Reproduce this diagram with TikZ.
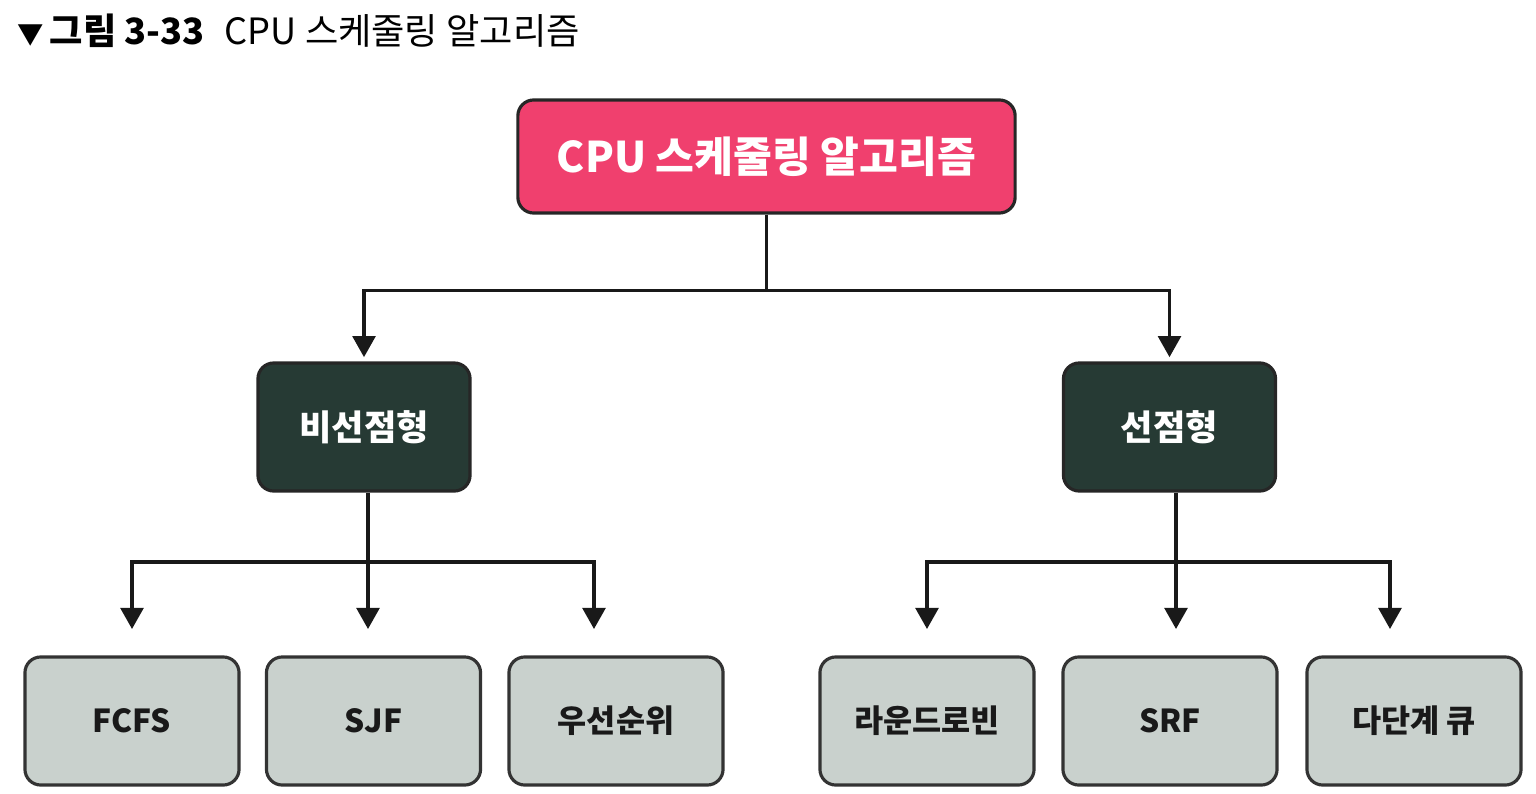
\documentclass[tikz,border=0pt]{standalone}
\usepackage{fontspec}
\setmainfont{Noto Sans CJK KR}
\usetikzlibrary{arrows.meta}
\definecolor{rootpink}{HTML}{F0406E}
\definecolor{darkgreen}{HTML}{263A34}
\definecolor{leafgray}{HTML}{C9D1CD}

\begin{document}
\begin{tikzpicture}[x=.01cm,y=-.01cm,
  rootbox/.style={draw=black!85,line width=.9pt,rounded corners=4.5pt,
    fill=rootpink,text=white,minimum width=4.97cm,minimum height=1.13cm,
    font=\fontsize{12}{14}\selectfont\bfseries},
  kindbox/.style={draw=black!85,line width=.9pt,rounded corners=4.5pt,
    fill=darkgreen,text=white,minimum width=2.12cm,minimum height=1.28cm,
    font=\fontsize{10}{12}\selectfont\bfseries},
  algbox/.style={draw=black!80,line width=.9pt,rounded corners=4.5pt,
    fill=leafgray,text=black!90,minimum width=2.14cm,minimum height=1.28cm,
    font=\fontsize{9}{11}\selectfont\bfseries},
  link/.style={draw=black!90,line width=.9pt,-{Triangle[length=6pt,width=6.5pt]}}]
 \useasboundingbox (0,0) rectangle (1536,794);
 \node[anchor=west,font=\fontsize{10.3}{12}\selectfont] (title) at (5,31)
      {\textbf{{\fontsize{7.5}{9}\selectfont ▼}\,그림 3-33}\hspace{.55em}CPU 스케줄링 알고리즘};
 \node[rootbox] (root) at (766.5,156.5) {CPU 스케줄링 알고리즘};
 \node[kindbox] (np) at (364,427) {비선점형};
 \node[kindbox] (pr) at (1169.5,427) {선점형};
 \node[algbox] (fcfs) at (132,721) {FCFS};
 \node[algbox] (sjf) at (373.5,721) {SJF};
 \node[algbox] (prio) at (616,721) {우선순위};
 \node[algbox] (rr) at (927,721) {라운드로빈};
 \node[algbox] (srf) at (1170,721) {SRF};
 \node[algbox] (mlq) at (1414,721) {다단계 큐};
 \coordinate (npj) at (368,562);
 \coordinate (prj) at (1176,562);
 \draw[link,shorten >=1.2pt] (root.south) -- ++(0,76) -| (np.north);
 \draw[link,shorten >=1.2pt] (root.south) -- ++(0,76) -| (pr.north);
 \draw[link,shorten >=7.5pt] (np.south -| npj) -- (sjf.north -| npj);
 \draw[link,shorten >=7.5pt] (npj) -| (fcfs.north);
 \draw[link,shorten >=7.5pt] (npj) -| ([xshift=-.22cm]prio.north);
 \draw[link,shorten >=7.5pt] (pr.south -| prj) -- (srf.north -| prj);
 \draw[link,shorten >=7.5pt] (prj) -| (rr.north);
 \draw[link,shorten >=7.5pt] (prj) -| ([xshift=-.24cm]mlq.north);
\end{tikzpicture}
\end{document}
